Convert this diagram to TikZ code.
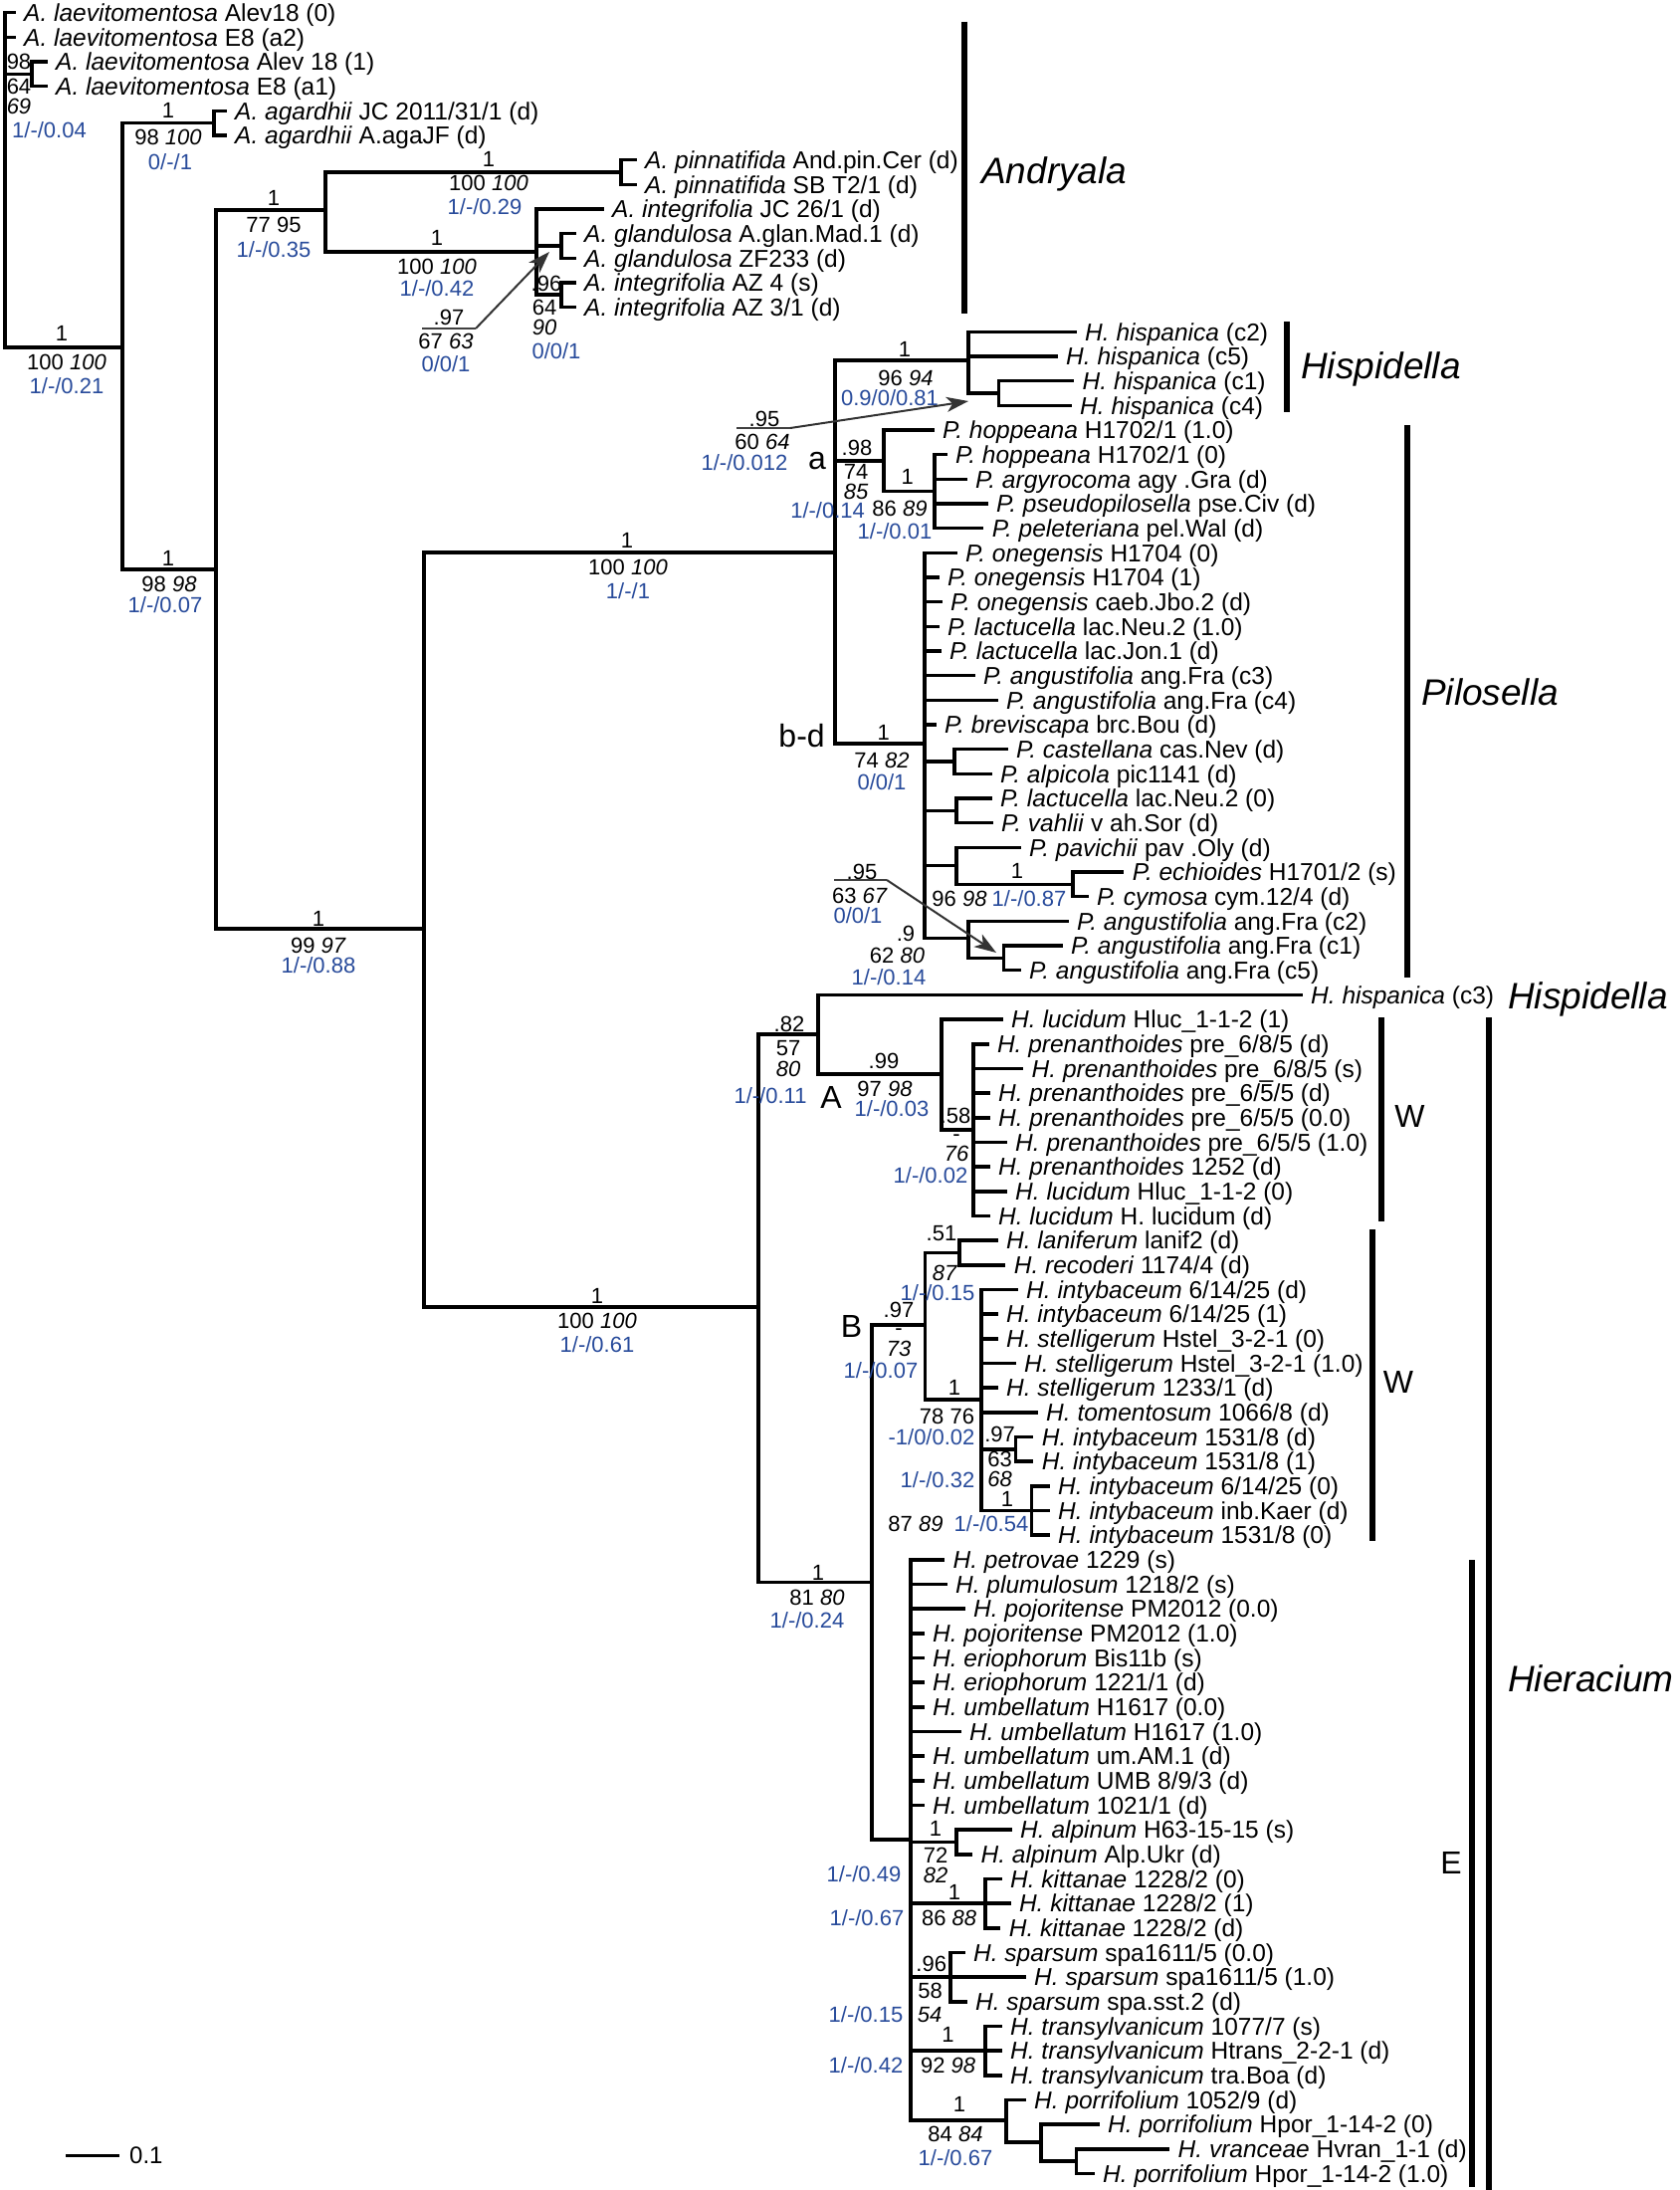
\documentclass[tikz,border=0pt]{standalone}
\usepackage{fontspec}
\setmainfont{Liberation Sans}
\usetikzlibrary{arrows.meta}
\definecolor{blu}{RGB}{40,75,155}
\newcommand{\lf}[4]{\coordinate (#1) at (#2,#3); \node[leaf] (#1t) at (#1) {#4};}
\begin{document}
\begin{tikzpicture}[x=1pt,y=-1pt,
  br/.style={line width=3.5pt, line cap=rect, line join=miter},
  leaf/.style={anchor=west, inner sep=0pt, xshift=10pt, font=\fontsize{24.5}{26}\selectfont, text height=17.5pt, text depth=0pt},
  lab/.style={inner sep=0pt, font=\fontsize{22}{24}\selectfont, text height=16pt, text depth=0pt},
  dsh/.style={inner sep=0pt, font=\fontsize{22}{24}\selectfont, text height=8pt, text depth=-5pt},
  bl/.style={lab, text=blu},
  il/.style={lab, font=\fontsize{22}{24}\selectfont\itshape},
  big/.style={inner sep=0pt, anchor=base, font=\fontsize{32}{34}\selectfont},
  grp/.style={anchor=base west, inner sep=0pt, font=\fontsize{37}{40}\selectfont\itshape},
  bar/.style={line width=6pt},
  arr/.style={draw=black!80, line width=2pt, -{Stealth[length=22pt,width=15pt,inset=6pt]}},
  ul/.style={draw=black!75, line width=1.5pt}]
\useasboundingbox (0,0) rectangle (1688,2200);
\fill[white] (0,0) rectangle (1688,2200);

% ---------- leaves ----------
\lf{L1}{14}{12.6}{\textit{A. laevitomentosa} Alev18 (0)}
\lf{L2}{14}{37.27}{\textit{A. laevitomentosa} E8 (a2)}
\lf{L3}{46}{61.94}{\textit{A. laevitomentosa} Alev 18 (1)}
\lf{L4}{46}{86.61}{\textit{A. laevitomentosa} E8 (a1)}
\lf{L5}{226}{111.28}{\textit{A. agardhii} JC 2011/31/1 (d)}
\lf{L6}{226}{135.95}{\textit{A. agardhii} A.agaJF (d)}
\lf{L7}{638}{160.62}{\textit{A. pinnatifida} And.pin.Cer (d)}
\lf{L8}{638}{185.29}{\textit{A. pinnatifida} SB T2/1 (d)}
\lf{L9}{605}{209.96}{\textit{A. integrifolia} JC 26/1 (d)}
\lf{L10}{577}{234.63}{\textit{A. glandulosa} A.glan.Mad.1 (d)}
\lf{L11}{577}{259.30}{\textit{A. glandulosa} ZF233 (d)}
\lf{L12}{577}{283.97}{\textit{A. integrifolia} AZ 4 (s)}
\lf{L13}{577}{308.64}{\textit{A. integrifolia} AZ 3/1 (d)}
\lf{L14}{1080}{333.31}{\textit{H. hispanica} (c2)}
\lf{L15}{1061}{357.98}{\textit{H. hispanica} (c5)}
\lf{L16}{1077.5}{382.65}{\textit{H. hispanica} (c1)}
\lf{L17}{1075}{407.32}{\textit{H. hispanica} (c4)}
\lf{L18}{937}{431.99}{\textit{P. hoppeana} H1702/1 (1.0)}
\lf{L19}{950}{456.66}{\textit{P. hoppeana} H1702/1 (0)}
\lf{L20}{970}{481.33}{\textit{P. argyrocoma} agy .Gra (d)}
\lf{L21}{991}{506.00}{\textit{P. pseudopilosella} pse.Civ (d)}
\lf{L22}{986.7}{530.67}{\textit{P. peleteriana} pel.Wal (d)}
\lf{L23}{960}{555.34}{\textit{P. onegensis} H1704 (0)}
\lf{L24}{942}{580.01}{\textit{P. onegensis} H1704 (1)}
\lf{L25}{945}{604.68}{\textit{P. onegensis} caeb.Jbo.2 (d)}
\lf{L26}{942}{629.35}{\textit{P. lactucella} lac.Neu.2 (1.0)}
\lf{L27}{944}{654.02}{\textit{P. lactucella} lac.Jon.1 (d)}
\lf{L28}{978}{678.69}{\textit{P. angustifolia} ang.Fra (c3)}
\lf{L29}{1001}{703.36}{\textit{P. angustifolia} ang.Fra (c4)}
\lf{L30}{939}{728.03}{\textit{P. breviscapa} brc.Bou (d)}
\lf{L31}{1011}{752.70}{\textit{P. castellana} cas.Nev (d)}
\lf{L32}{995}{777.37}{\textit{P. alpicola} pic1141 (d)}
\lf{L33}{995}{802.04}{\textit{P. lactucella} lac.Neu.2 (0)}
\lf{L34}{996}{826.71}{\textit{P. vahlii} v ah.Sor (d)}
\lf{L35}{1024}{851.38}{\textit{P. pavichii} pav .Oly (d)}
\lf{L36}{1127.6}{876.05}{\textit{P. echioides} H1701/2 (s)}
\lf{L37}{1092}{900.72}{\textit{P. cymosa} cym.12/4 (d)}
\lf{L38}{1072}{925.39}{\textit{P. angustifolia} ang.Fra (c2)}
\lf{L39}{1066}{950.06}{\textit{P. angustifolia} ang.Fra (c1)}
\lf{L40}{1024}{974.73}{\textit{P. angustifolia} ang.Fra (c5)}
\lf{L41}{1307}{999.40}{\textit{H. hispanica} (c3)}
\lf{L42}{1006}{1024.07}{\textit{H. lucidum} Hluc\_1-1-2 (1)}
\lf{L43}{991.8}{1048.74}{\textit{H. prenanthoides} pre\_6/8/5 (d)}
\lf{L44}{1026.5}{1073.41}{\textit{H. prenanthoides} pre\_6/8/5 (s)}
\lf{L45}{993}{1098.08}{\textit{H. prenanthoides} pre\_6/5/5 (d)}
\lf{L46}{993}{1122.75}{\textit{H. prenanthoides} pre\_6/5/5 (0.0)}
\lf{L47}{1010}{1147.42}{\textit{H. prenanthoides} pre\_6/5/5 (1.0)}
\lf{L48}{993}{1172.09}{\textit{H. prenanthoides} 1252 (d)}
\lf{L49}{1010}{1196.76}{\textit{H. lucidum} Hluc\_1-1-2 (0)}
\lf{L50}{993}{1221.43}{\textit{H. lucidum} H. lucidum (d)}
\lf{L51}{1001}{1246.10}{\textit{H. laniferum} lanif2 (d)}
\lf{L52}{1008.7}{1270.77}{\textit{H. recoderi} 1174/4 (d)}
\lf{L53}{1021}{1295.44}{\textit{H. intybaceum} 6/14/25 (d)}
\lf{L54}{1001}{1320.11}{\textit{H. intybaceum} 6/14/25 (1)}
\lf{L55}{1001}{1344.78}{\textit{H. stelligerum} Hstel\_3-2-1 (0)}
\lf{L56}{1019}{1369.45}{\textit{H. stelligerum} Hstel\_3-2-1 (1.0)}
\lf{L57}{1001}{1394.12}{\textit{H. stelligerum} 1233/1 (d)}
\lf{L58}{1041}{1418.79}{\textit{H. tomentosum} 1066/8 (d)}
\lf{L59}{1036.7}{1443.46}{\textit{H. intybaceum} 1531/8 (d)}
\lf{L60}{1036.7}{1468.13}{\textit{H. intybaceum} 1531/8 (1)}
\lf{L61}{1053}{1492.80}{\textit{H. intybaceum} 6/14/25 (0)}
\lf{L62}{1053}{1517.47}{\textit{H. intybaceum} inb.Kaer (d)}
\lf{L63}{1053}{1542.14}{\textit{H. intybaceum} 1531/8 (0)}
\lf{L64}{947.4}{1566.81}{\textit{H. petrovae} 1229 (s)}
\lf{L65}{950}{1591.48}{\textit{H. plumulosum} 1218/2 (s)}
\lf{L66}{968}{1616.15}{\textit{H. pojoritense} PM2012 (0.0)}
\lf{L67}{927}{1640.82}{\textit{H. pojoritense} PM2012 (1.0)}
\lf{L68}{927}{1665.49}{\textit{H. eriophorum} Bis11b (s)}
\lf{L69}{927}{1690.16}{\textit{H. eriophorum} 1221/1 (d)}
\lf{L70}{927}{1714.83}{\textit{H. umbellatum} H1617 (0.0)}
\lf{L71}{964}{1739.50}{\textit{H. umbellatum} H1617 (1.0)}
\lf{L72}{927}{1764.17}{\textit{H. umbellatum} um.AM.1 (d)}
\lf{L73}{927}{1788.84}{\textit{H. umbellatum} UMB 8/9/3 (d)}
\lf{L74}{927}{1813.51}{\textit{H. umbellatum} 1021/1 (d)}
\lf{L75}{1015}{1838.18}{\textit{H. alpinum} H63-15-15 (s)}
\lf{L76}{975.5}{1862.85}{\textit{H. alpinum} Alp.Ukr (d)}
\lf{L77}{1005}{1887.52}{\textit{H. kittanae} 1228/2 (0)}
\lf{L78}{1013.8}{1912.19}{\textit{H. kittanae} 1228/2 (1)}
\lf{L79}{1003.6}{1936.86}{\textit{H. kittanae} 1228/2 (d)}
\lf{L80}{968}{1961.53}{\textit{H. sparsum} spa1611/5 (0.0)}
\lf{L81}{1029}{1986.20}{\textit{H. sparsum} spa1611/5 (1.0)}
\lf{L82}{970}{2010.87}{\textit{H. sparsum} spa.sst.2 (d)}
\lf{L83}{1005}{2035.54}{\textit{H. transylvanicum} 1077/7 (s)}
\lf{L84}{1005}{2060.21}{\textit{H. transylvanicum} Htrans\_2-2-1 (d)}
\lf{L85}{1005}{2084.88}{\textit{H. transylvanicum} tra.Boa (d)}
\lf{L86}{1029}{2109.55}{\textit{H. porrifolium} 1052/9 (d)}
\lf{L87}{1103}{2134.22}{\textit{H. porrifolium} Hpor\_1-14-2 (0)}
\lf{L88}{1173.5}{2158.89}{\textit{H. vranceae} Hvran\_1-1 (d)}
\lf{L89}{1098}{2183.56}{\textit{H. porrifolium} Hpor\_1-14-2 (1.0)}

% ---------- internal nodes ----------
\coordinate (nR) at (5,349);
\coordinate (n34) at (32,74.3);
\coordinate (n1) at (123,349);
\coordinate (nAg) at (215,123.6);
\coordinate (n2) at (217,572);
\coordinate (n3) at (327,211);
\coordinate (nPin) at (624,173);
\coordinate (n4) at (539,253);
\coordinate (nGl) at (564,247);
\coordinate (nIn) at (564,296);
\coordinate (n5) at (426,933);
\coordinate (nP) at (839,555);
\coordinate (nHi) at (973,362);
\coordinate (nHi2) at (1003.6,395);
\coordinate (na) at (888,463);
\coordinate (na2) at (939,493.7);
\coordinate (nbd) at (929,747);
\coordinate (nCA) at (959,765);
\coordinate (nLV) at (961,814.4);
\coordinate (nPE) at (961,869.5);
\coordinate (nEC) at (1078,888.4);
\coordinate (nAn) at (973,942.5);
\coordinate (nAn2) at (1008.7,962.4);
\coordinate (nH) at (762,1313);
\coordinate (n82) at (822,1039);
\coordinate (nA) at (946,1079);
\coordinate (n58) at (978,1135);
\coordinate (n81) at (876,1589.5);
\coordinate (nB) at (929.6,1331);
\coordinate (n51) at (964,1258.4);
\coordinate (n78) at (986,1406);
\coordinate (n97) at (1020.4,1455.8);
\coordinate (n3c) at (1036.7,1517.5);
\coordinate (nE) at (915,1848);
\coordinate (nAl) at (961,1850.5);
\coordinate (nKi) at (990,1912.2);
\coordinate (nSp) at (955,1986.2);
\coordinate (nTr) at (990,2060.2);
\coordinate (nPo) at (1011,2130);
\coordinate (nPo2) at (1046,2152);
\coordinate (nPo3) at (1081.6,2171.2);

% ---------- branches ----------
\draw[br] (nR) |- (L1) (nR) |- (L2) (nR) |- (n34) (nR) |- (n1)
  (n34) |- (L3) (n34) |- (L4)
  (n1) |- (nAg) (n1) |- (n2)
  (nAg) |- (L5) (nAg) |- (L6)
  (n2) |- (n3) (n2) |- (n5)
  (n3) |- (nPin) (n3) |- (n4)
  (nPin) |- (L7) (nPin) |- (L8)
  (n4) |- (L9) (n4) |- (nGl) (n4) |- (nIn)
  (nGl) |- (L10) (nGl) |- (L11)
  (nIn) |- (L12) (nIn) |- (L13)
  (n5) |- (nP) (n5) |- (nH)
  (nP) |- (nHi) (nP) |- (na) (nP) |- (nbd)
  (nHi) |- (L14) (nHi) |- (L15) (nHi) |- (nHi2)
  (nHi2) |- (L16) (nHi2) |- (L17)
  (na) |- (L18) (na) |- (na2)
  (nbd) |- (nCA) (nbd) |- (nLV) (nbd) |- (nPE) (nbd) |- (nAn)
  (nCA) |- (L31) (nCA) |- (L32)
  (nLV) |- (L33) (nLV) |- (L34)
  (nPE) |- (L35) (nPE) |- (nEC)
  (nEC) |- (L36) (nEC) |- (L37)
  (nAn) |- (L38) (nAn) |- (nAn2)
  (nAn2) |- (L39) (nAn2) |- (L40)
  (nH) |- (n82) (nH) |- (n81)
  (n82) |- (L41) (n82) |- (nA)
  (nA) |- (L42) (nA) |- (n58)
  (n81) |- (nB) (n81) |- (nE)
  (nB) |- (n51) (nB) |- (n78)
  (n51) |- (L51) (n51) |- (L52)
  (n78) |- (n97) (n78) |- (n3c)
  (n97) |- (L59) (n97) |- (L60)
  (nE) |- (nAl) (nE) |- (nKi) (nE) |- (nSp) (nE) |- (nTr) (nE) |- (nPo)
  (nAl) |- (L75) (nAl) |- (L76)
  (nPo) |- (L86) (nPo) |- (nPo2)
  (nPo2) |- (L87) (nPo2) |- (nPo3)
  (nPo3) |- (L88) (nPo3) |- (L89);
\foreach \i in {19,...,22} {\draw[br] (na2) |- (L\i);}
\foreach \i in {23,...,30} {\draw[br] (nbd) |- (L\i);}
\foreach \i in {43,...,50} {\draw[br] (n58) |- (L\i);}
\foreach \i in {53,...,58} {\draw[br] (n78) |- (L\i);}
\foreach \i in {61,62,63} {\draw[br] (n3c) |- (L\i);}
\foreach \i in {64,...,74} {\draw[br] (nE) |- (L\i);}
\foreach \i in {77,78,79} {\draw[br] (nKi) |- (L\i);}
\foreach \i in {80,81,82} {\draw[br] (nSp) |- (L\i);}
\foreach \i in {83,84,85} {\draw[br] (nTr) |- (L\i);}

% ---------- support values ----------
\node[lab] (s01) at (19,61.7) {98};
\node[lab] (s02) at (19,87) {64};
\node[il] (s03) at (19,106.7) {69};
\node[bl] (s04) at (49.5,130) {1/-/0.04};
\node[lab] (s05) at (62,334) {1};
\node[lab] (s06) at (67,363) {100 \textit{100}};
\node[bl] (s07) at (67,387) {1/-/0.21};
\node[lab] (s08) at (169,110) {1};
\node[lab] (s09) at (169,137) {98 \textit{100}};
\node[bl] (s10) at (171,162) {0/-/1};
\node[lab] (s11) at (169,560) {1};
\node[lab] (s12) at (170,586) {98 \textit{98}};
\node[bl] (s13) at (166,607) {1/-/0.07};
\node[lab] (s14) at (275,198) {1};
\node[lab] (s15) at (275,225) {77 95};
\node[bl] (s16) at (275,250) {1/-/0.35};
\node[lab] (s17) at (491,159) {1};
\node[lab] (s18) at (491,183) {100 \textit{100}};
\node[bl] (s19) at (487,207) {1/-/0.29};
\node[lab] (s20) at (439,238) {1};
\node[lab] (s21) at (439,267) {100 \textit{100}};
\node[bl] (s22) at (439,289) {1/-/0.42};
\node[lab] (s23) at (549,284) {.96};
\node[lab] (s24) at (547,308) {64};
\node[il] (s25) at (547,328) {90};
\node[bl] (s26) at (559,352) {0/0/1};
\node[lab] (s27) at (451,318) {.97};
\node[lab] (s28) at (448,342) {67 \textit{63}};
\node[bl] (s29) at (448,365) {0/0/1};
\coordinate (u1a) at (424,330); \coordinate (u1b) at (478,330); \coordinate (t1) at (552,253);
\draw[ul] (u1a) -- (u1b); \draw[arr] (u1b) -- (t1);

\node[lab] (s30) at (320,922) {1};
\node[lab] (s31) at (320,949) {99 \textit{97}};
\node[bl] (s32) at (320,969) {1/-/0.88};
\node[lab] (s33) at (630,542) {1};
\node[lab] (s34) at (631,569) {100 \textit{100}};
\node[bl] (s35) at (631,593) {1/-/1};

\node[lab] (s36) at (909,350) {1};
\node[lab] (s37) at (910,379) {96 \textit{94}};
\node[bl] (s38) at (894,399) {0.9/0/0.81};
\node[lab] (s39) at (768,420) {.95};
\node[lab] (s40) at (766,443) {60 \textit{64}};
\node[bl] (s41) at (748,464) {1/-/0.012};
\coordinate (u2a) at (740,430); \coordinate (u2b) at (794,430); \coordinate (t2) at (973,403);
\draw[ul] (u2a) -- (u2b); \draw[arr] (u2b) -- (t2);

\node[big] (ga) at (821,471.7) {a};
\node[lab] (s42) at (861,449) {.98};
\node[lab] (s43) at (860,473) {74};
\node[il] (s44) at (860,493) {85};
\node[bl] (s45) at (831.6,512) {1/-/0.14};
\node[lab] (s46) at (911.7,478) {1};
\node[lab] (s47) at (904,510) {86 \textit{89}};
\node[bl] (s48) at (899,533) {1/-/0.01};

\node[big] (gbd) at (805.6,750) {b-d};
\node[lab] (s49) at (887.8,735) {1};
\node[lab] (s50) at (886,763) {74 \textit{82}};
\node[bl] (s51) at (886,785) {0/0/1};
\node[lab] (s52) at (1022,874) {1};
\node[lab] (s53) at (964,902) {96 \textit{98}};
\node[bl] (s54) at (1034,902) {1/-/0.87};
\node[lab] (s55) at (910,937) {.9};
\node[lab] (s56) at (901.5,959) {62 \textit{80}};
\node[bl] (s57) at (893,981) {1/-/0.14};
\node[lab] (s58) at (866,875) {.95};
\node[lab] (s59) at (864,899) {63 \textit{67}};
\node[bl] (s60) at (862,919) {0/0/1};
\coordinate (u3a) at (838,884); \coordinate (u3b) at (891,884); \coordinate (t3) at (1001,957);
\draw[ul] (u3a) -- (u3b); \draw[arr] (u3b) -- (t3);

\node[lab] (s61) at (600,1301) {1};
\node[lab] (s62) at (600,1326) {100 \textit{100}};
\node[bl] (s63) at (600,1350) {1/-/0.61};
\node[lab] (s64) at (793,1028) {.82};
\node[lab] (s65) at (792,1052) {57};
\node[il] (s66) at (792,1073) {80};
\node[bl] (s67) at (774,1100) {1/-/0.11};
\node[big] (gA) at (835,1113) {A};
\node[lab] (s68) at (888,1065) {.99};
\node[lab] (s69) at (889,1093) {97 \textit{98}};
\node[bl] (s70) at (896,1113) {1/-/0.03};
\node[lab] (s71) at (960,1120) {.58};
\node[dsh] (s72) at (961,1142) {-};
\node[il] (s73) at (961,1158) {76};
\node[bl] (s74) at (935,1180) {1/-/0.02};

\node[lab] (s75) at (822,1579) {1};
\node[lab] (s76) at (821,1604) {81 \textit{80}};
\node[bl] (s77) at (811,1627) {1/-/0.24};
\node[big] (gB) at (855.6,1343) {B};
\node[lab] (s78) at (903,1315) {.97};
\node[dsh] (s79) at (903,1337) {-};
\node[il] (s80) at (903,1354) {73};
\node[bl] (s81) at (885,1376) {1/-/0.07};
\node[lab] (s82) at (946,1238) {.51};
\node[dsh] (s83) at (949,1260) {-};
\node[il] (s84) at (949,1278) {87};
\node[bl] (s85) at (942,1298) {1/-/0.15};
\node[lab] (s86) at (959,1393) {1};
\node[lab] (s87) at (951.5,1422) {78 76};
\node[bl] (s88) at (936,1443) {-1/0/0.02};
\node[lab] (s89) at (1004.6,1440) {.97};
\node[lab] (s90) at (1004.6,1465) {63};
\node[il] (s91) at (1004.6,1485) {68};
\node[bl] (s92) at (942,1486) {1/-/0.32};
\node[lab] (s93) at (1012,1505) {1};
\node[lab] (s94) at (920,1530) {87 \textit{89}};
\node[bl] (s95) at (996,1530) {1/-/0.54};

\node[bl] (s96) at (868,1882) {1/-/0.49};
\node[lab] (s97) at (940,1836) {1};
\node[lab] (s98) at (940,1863) {72};
\node[il] (s99) at (940,1883) {82};
\node[lab] (t01) at (959,1900) {1};
\node[lab] (t02) at (953.6,1926) {86 \textit{88}};
\node[bl] (t03) at (871,1926) {1/-/0.67};
\node[lab] (t04) at (935.7,1972) {.96};
\node[lab] (t05) at (934.7,1999) {58};
\node[il] (t06) at (934,2023) {54};
\node[bl] (t07) at (870,2023) {1/-/0.15};
\node[lab] (t08) at (952.6,2043) {1};
\node[lab] (t09) at (952.6,2074) {92 \textit{98}};
\node[bl] (t10) at (870,2074) {1/-/0.42};
\node[lab] (t11) at (964,2113) {1};
\node[lab] (t12) at (960,2143) {84 \textit{84}};
\node[bl] (t13) at (960,2167) {1/-/0.67};

% ---------- group bars ----------
\coordinate (bA1) at (969.4,21.7); \coordinate (bA2) at (969.4,315);
\coordinate (bH1) at (1293,323); \coordinate (bH2) at (1293,414);
\coordinate (bP1) at (1414,427); \coordinate (bP2) at (1414,982);
\coordinate (bW1) at (1388,1022); \coordinate (bW2) at (1388,1227);
\coordinate (bV1) at (1379,1235); \coordinate (bV2) at (1379,1548);
\coordinate (bE1) at (1479,1567); \coordinate (bE2) at (1479,2197);
\coordinate (bI1) at (1496,1022); \coordinate (bI2) at (1496,2200);
\draw[bar] (bA1) -- (bA2) (bH1) -- (bH2) (bP1) -- (bP2) (bW1) -- (bW2)
  (bV1) -- (bV2) (bE1) -- (bE2) (bI1) -- (bI2);
\node[grp] (gAn) at (986,184) {Andryala};
\node[grp] (gHi) at (1307,380) {Hispidella};
\node[grp] (gPi) at (1428,708) {Pilosella};
\node[grp] (gHi2) at (1515,1013) {Hispidella};
\node[grp] (gHie) at (1515,1699) {Hieracium};
\node[big] (gW1) at (1416.5,1132) {W};
\node[big] (gW2) at (1405,1399) {W};
\node[big] (gE) at (1458,1882.7) {E};

% ---------- scale bar ----------
\coordinate (sc1) at (66,2165); \coordinate (sc2) at (120,2165);
\draw[line width=3pt] (sc1) -- (sc2);
\node[lab, anchor=west, font=\fontsize{24}{26}\selectfont, text height=17pt] (scl) at (130,2165) {0.1};
\end{tikzpicture}
\end{document}
